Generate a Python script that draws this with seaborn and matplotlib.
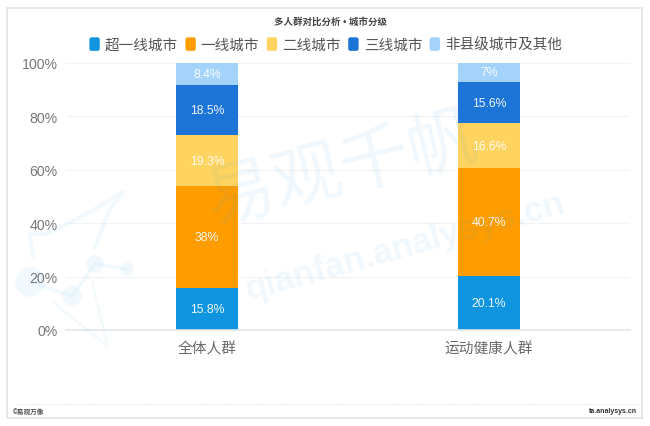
import matplotlib
matplotlib.use('Agg')
import matplotlib.pyplot as plt
import matplotlib.patches as mpatches
from matplotlib.legend_handler import HandlerPatch
import pandas as pd
import seaborn as sns

# data
groups = ['全体人群', '运动健康人群']
tiers = ['超一线城市', '一线城市', '二线城市', '三线城市', '非县级城市及其他']
tier1_plus = [15.8, 20.1]
tier1 = [38, 40.7]
tier2 = [19.3, 16.6]
tier3 = [18.5, 15.6]
other = [8.4, 7]
colors = ['#0f95e0', '#ff9c00', '#ffd35f', '#1b74d6', '#a3d3fa']
y_ticks = [0, 20, 40, 60, 80, 100]

sns.set_theme(style='white')
plt.rcParams['font.family'] = ['Liberation Sans', 'Noto Sans CJK SC', 'DejaVu Sans']

W, H = 650, 427
fig = plt.figure(figsize=(6.5, 4.27), dpi=100, facecolor='white')


def px(x, y):
    return x / W, 1 - y / H


# card
fig.add_artist(mpatches.Rectangle(px(7, 419), 635 / W, 410 / H, transform=fig.transFigure,
                                  fc='white', ec='#e3e3e3', lw=1.2, zorder=-1))

ax = fig.add_axes([66 / W, 1 - 331 / H, 564 / W, 267 / H])
ax.patch.set_alpha(0)

# stacked bars
df = pd.DataFrame({'group': groups, tiers[0]: tier1_plus, tiers[1]: tier1,
                   tiers[2]: tier2, tiers[3]: tier3, tiers[4]: other})
bottom = [0, 0]
for tier, color in zip(tiers, colors):
    sns.barplot(data=df, x='group', y=tier, order=groups, bottom=bottom, color=color,
                saturation=1, width=0.22, linewidth=0, ax=ax, zorder=2)
    bottom = [b + v for b, v in zip(bottom, df[tier])]

for container, tier in zip(ax.containers, tiers):
    labels = [f'{v:g}%' for v in df[tier]]
    ax.bar_label(container, labels=labels, label_type='center', color='white',
                 fontsize=8.8, alpha=0.92, zorder=3)

ax.set_xlim(-0.5, 1.5)
ax.set_ylim(0, 100)
ax.set_xlabel('')
ax.set_ylabel('')
ax.set_yticks(y_ticks)
ax.set_yticklabels([f'{t}%' for t in y_ticks])
ax.tick_params(axis='y', length=0, pad=6, labelsize=10.2, labelcolor='#777777')
ax.tick_params(axis='x', length=0, pad=8.5, labelsize=10.6, labelcolor='#6a6a6a')
ax.grid(axis='y', color='#f1f3f5', lw=0.9, zorder=0)
ax.set_axisbelow(True)
for side in ['top', 'right', 'left']:
    ax.spines[side].set_visible(False)
ax.spines['bottom'].set_color('#e3e7ec')
ax.spines['bottom'].set_linewidth(1.2)


# legend with rounded swatches
def rounded_patch(legend, orig_handle, xdescent, ydescent, width, height, fontsize):
    return mpatches.FancyBboxPatch((1 - xdescent, -0.5 - ydescent), width - 2, height,
                                   boxstyle='round,pad=0,rounding_size=1.6')


handles = [mpatches.Patch(fc=c, ec='none', lw=0, label=t) for c, t in zip(colors, tiers)]
fig.legend(handles=handles, loc='center', bbox_to_anchor=px(325, 45), ncol=5, frameon=False,
           fontsize=10.5, labelcolor='#555555', handlelength=0.9, handleheight=1.05,
           handletextpad=0.25, columnspacing=0.42, borderpad=0,
           handler_map={mpatches.Patch: HandlerPatch(patch_func=rounded_patch)})

# title and footer
fig.text(*px(330, 22), '多人群对比分析 • 城市分级', ha='center', va='center', fontsize=6.8,
         fontweight='bold', color='#444444')
fig.text(*px(13, 412), '©易观万像', ha='left', va='center', fontsize=4.8,
         fontweight='bold', color='#555555')
fig.text(*px(637, 412), 'ta.analysys.cn', ha='right', va='center', fontsize=5.0,
         fontweight='bold', color='#333333')
fig.add_artist(plt.Line2D([17 / W, 640 / W], [1 - 405 / H] * 2, color='#dddddd', lw=0.7,
                          ls=(0, (1, 1.5))))

# watermark
wm = '#2ea3e3'
fig.text(*px(342, 172), '易观千帆', ha='center', va='center', fontsize=50, rotation=14,
         color=wm, alpha=0.07, zorder=5)
fig.text(*px(405, 247), 'qianfan.analysys.cn', ha='center', va='center', fontsize=25,
         rotation=15.5, fontweight='bold', color=wm, alpha=0.07, zorder=5)
for xs, ys, lw in [([33, 30, 47, 83, 123, 110, 95], [258, 235, 235, 217, 193, 210, 248], 3),
                   ([30, 72, 95, 127], [283, 297, 265, 270], 2.5),
                   ([53, 108, 92], [303, 348, 283], 1.5)]:
    fig.add_artist(plt.Line2D([x / W for x in xs], [1 - y / H for y in ys], color=wm,
                              lw=lw, alpha=0.06))
for x, y, r in [(30, 283, 15), (72, 297, 10), (95, 265, 9), (127, 270, 7)]:
    fig.add_artist(mpatches.Ellipse(px(x, y), 2 * r / W, 2 * r / H, transform=fig.transFigure,
                                    fc=wm, alpha=0.06, ec='none'))

fig.savefig('out.png', dpi=100)
